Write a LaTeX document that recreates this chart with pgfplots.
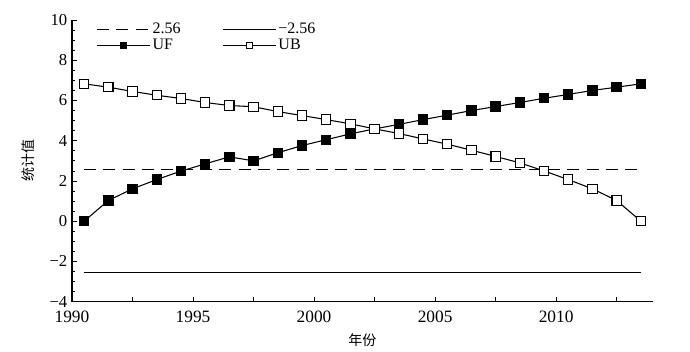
\documentclass[border=0pt]{standalone}
\usepackage{pgfplots}
\pgfplotsset{compat=1.18}
\usepackage{fontspec}
\setmainfont{Liberation Serif}
\newfontfamily\cjk{Noto Sans CJK SC}
\begin{document}
\begin{tikzpicture}
\path (-54pt,-37.7pt) rectangle (463.5pt,226.3pt);
\begin{axis}[
  at={(0,0)}, anchor=south west,
  scale only axis, width=435.75pt, height=211.3pt,
  xmin=1990, xmax=2014, ymin=-4, ymax=10,
  axis x line=bottom, axis y line=left,
  axis line style={-, line width=0.8pt},
  xtick={1990,1992.5,1995,1997.5,2000,2002.5,2005,2007.5,2010,2012.5},
  xticklabels={1990,,1995,,2000,,2005,,2010,},
  ytick={-4,-2,0,2,4,6,8,10},
  yticklabels={−4,−2,0,2,4,6,8,10},
  minor y tick num=3,
  tick align=inside,
  major tick length=3.5pt, minor tick length=2pt,
  tick style={line width=0.6pt, black},
  xticklabel style={font=\fontsize{13}{14}\selectfont, yshift=-3.5pt},
  yticklabel style={font=\fontsize{12.5}{14}\selectfont},
  xlabel={\cjk 年份}, ylabel={\cjk 统计值},
  label style={font=\fontsize{10.5}{12}\selectfont},
  xlabel style={at={(axis description cs:0.5,-0.136)}, anchor=center},
  ylabel style={at={(axis description cs:-0.076,0.5)}, anchor=center, rotate=0},
  legend style={at={(axis description cs:0.035,1.005)}, anchor=north west, draw=none, fill=none,
    font=\fontsize{12}{13}\selectfont, nodes={inner sep=1.2pt},
    /tikz/every even column/.append style={column sep=30pt}},
  legend columns=2, legend cell align=left,
  legend image code/.code={\draw[mark repeat=2,mark phase=2,mark size=2.2pt] plot coordinates {(0pt,0pt) (20pt,0pt) (40pt,0pt)};},
]
\addplot[black, line width=0.8pt, dash pattern=on 9pt off 5.5pt] coordinates {(1990.5,2.56) (2013.5,2.56)};
\addlegendentry{2.56}
\addplot[black, line width=1pt] coordinates {(1990.5,-2.56) (2013.5,-2.56)};
\addlegendentry{−2.56}
\addplot[black, line width=0.8pt, mark=square*, mark size=3.5pt, mark options={solid, fill=black}] coordinates {
(1990.5,0) (1991.5,1.03) (1992.5,1.61) (1993.5,2.07) (1994.5,2.49) (1995.5,2.85)
(1996.5,3.20) (1997.5,3.00) (1998.5,3.40) (1999.5,3.76) (2000.5,4.05) (2001.5,4.34)
(2002.5,4.59) (2003.5,4.81) (2004.5,5.05) (2005.5,5.27) (2006.5,5.50) (2007.5,5.70)
(2008.5,5.90) (2009.5,6.11) (2010.5,6.30) (2011.5,6.50) (2012.5,6.66) (2013.5,6.83)};
\addlegendentry{UF}
\addplot[black, line width=0.8pt, mark=square*, mark size=3.5pt, mark options={solid, fill=white, line width=0.8pt}] coordinates {
(1990.5,6.83) (1991.5,6.66) (1992.5,6.45) (1993.5,6.26) (1994.5,6.10) (1995.5,5.90)
(1996.5,5.75) (1997.5,5.69) (1998.5,5.45) (1999.5,5.25) (2000.5,5.05) (2001.5,4.84)
(2002.5,4.59) (2003.5,4.36) (2004.5,4.09) (2005.5,3.83) (2006.5,3.53) (2007.5,3.22)
(2008.5,2.90) (2009.5,2.50) (2010.5,2.07) (2011.5,1.61) (2012.5,1.03) (2013.5,0)};
\addlegendentry{UB}
\end{axis}
\end{tikzpicture}
\end{document}
